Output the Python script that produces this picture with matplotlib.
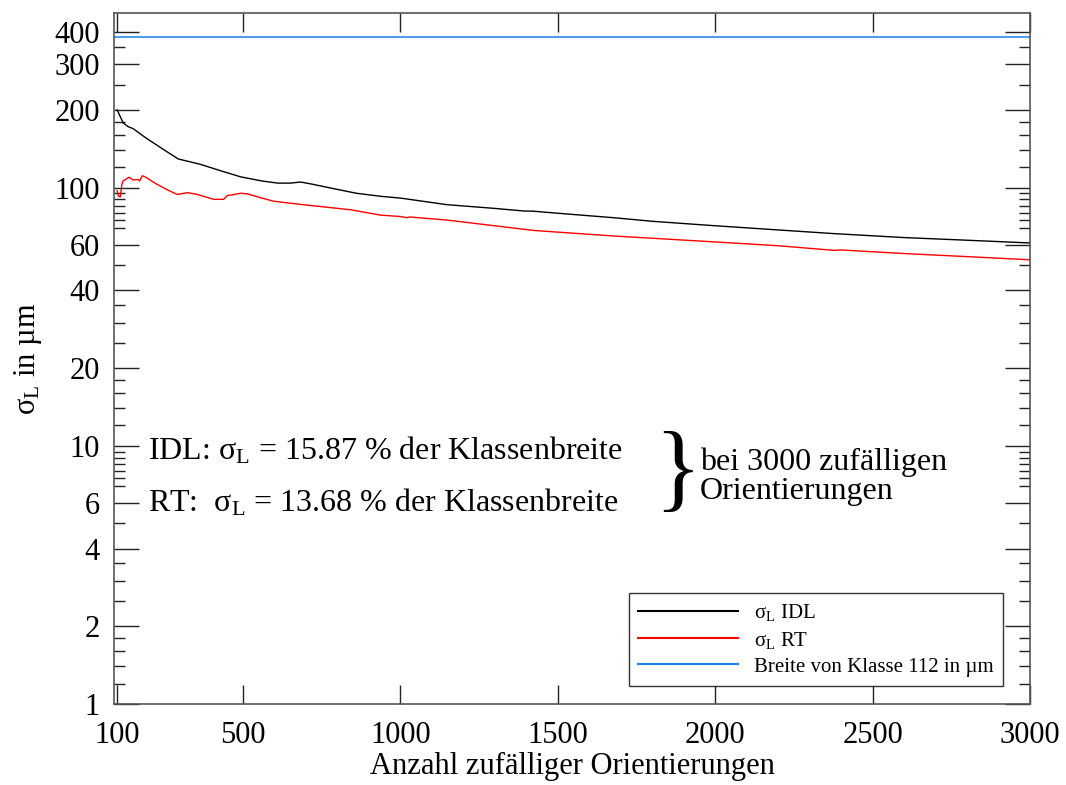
import matplotlib
matplotlib.use("Agg")
import matplotlib.pyplot as plt
from matplotlib.ticker import FixedLocator, NullFormatter, FixedFormatter

plt.rcParams['font.family'] = ['Liberation Serif', 'DejaVu Serif']
plt.rcParams['mathtext.fontset'] = 'custom'
plt.rcParams['mathtext.rm'] = 'Liberation Serif'
plt.rcParams['mathtext.it'] = 'Liberation Serif:italic'

# ---- data ----
idl_x = [100, 110, 119, 135, 151, 190, 237, 294, 364, 430, 492, 560, 610, 650,
         683, 720, 788, 860, 936, 1000, 1148, 1300, 1392, 1420, 1500, 1677,
         1800, 1986, 2200, 2377, 2600, 2800, 3000]
idl_y = [200, 188, 178, 172, 169, 156, 143, 129, 123, 116, 110, 106, 104, 104,
         105, 103, 99, 95, 92.5, 91, 85.8, 83, 81.1, 81, 79.5, 76.4,
         74, 71.3, 68.5, 66.3, 64, 62.5, 61]

rt_x = [100, 104, 110, 115, 119, 138, 150, 167, 171, 180, 189, 220, 259, 291,
        323, 355, 406, 438, 450, 492, 514, 560, 597, 683, 842, 936, 1000,
        1021, 1030, 1148, 1423, 1677, 1986, 2200, 2377, 2400, 2600, 2800, 3000]
rt_y = [97, 92.6, 92, 102.7, 106, 109.6, 107, 107.4, 106, 111, 110, 104, 98, 94,
        95.5, 94, 90, 90, 93, 95, 94.5, 91, 88.5, 86, 82, 78.2, 77.2,
        76.4, 76.9, 74.8, 68.2, 64.9, 61.7, 59.5, 57.1, 57.3, 55.5, 54, 52.5]

klasse_breite = 383.0

x_ticks = [100, 500, 1000, 1500, 2000, 2500, 3000]
y_ticks = [1, 2, 4, 6, 10, 20, 40, 60, 100, 200, 300, 400]

legend_labels = [r'σ$_{\mathrm{L}}$ IDL', r'σ$_{\mathrm{L}}$ RT',
                 'Breite von Klasse 112 in µm']

# ---- figure ----
fig = plt.figure(figsize=(10.66, 7.85), dpi=100)
ax = fig.add_axes([114/1066, 81/785, 916/1066, 691/785])

ax.plot(idl_x, idl_y, color='black', lw=1.0, label=legend_labels[0])
ax.plot(rt_x, rt_y, color='red', lw=1.0, label=legend_labels[1])
ax.axhline(klasse_breite, color='#1a7fe8', lw=1.1, label=legend_labels[2])

ax.set_yscale('log')
ax.set_xlim(90, 3000)
ax.set_ylim(1.0, 474)

ax.xaxis.set_major_locator(FixedLocator(x_ticks))
ax.set_xticklabels([str(v) for v in x_ticks])
ax.xaxis.set_minor_locator(FixedLocator([]))

minor = []
for dec in [1, 10, 100]:
    for s in [1.2, 1.4, 1.6, 1.8, 2.5, 3, 3.5, 5, 7, 7.5, 8, 8.5, 9, 9.5]:
        v = s * dec
        if 1 <= v <= 470 and v not in y_ticks:
            minor.append(v)
ax.yaxis.set_major_locator(FixedLocator(y_ticks))
ax.yaxis.set_major_formatter(FixedFormatter([str(v) for v in y_ticks]))
ax.yaxis.set_minor_locator(FixedLocator(minor))
ax.yaxis.set_minor_formatter(NullFormatter())

for sp in ax.spines.values():
    sp.set_color('#555555')
    sp.set_linewidth(1.2)

ax.tick_params(axis='both', which='both', direction='in', color='#222222',
               labelsize=22, top=True, right=True)
ax.tick_params(axis='y', which='major', length=18, width=1.0, pad=10)
ax.tick_params(axis='y', which='minor', length=8, width=1.0)
ax.tick_params(axis='x', which='major', length=14, width=1.0, pad=12)

ax.set_xlabel('Anzahl zufälliger Orientierungen', fontsize=22, labelpad=2)
ax.set_ylabel(r'σ$_{\mathrm{L}}$ in µm', fontsize=22, labelpad=8)

ax.text(0.037, 0.354, r'IDL: σ$_{\mathrm{L}}$ = 15.87 % der Klassenbreite',
        transform=ax.transAxes, fontsize=23, va='baseline', ha='left')
ax.text(0.037, 0.279, r'RT:  σ$_{\mathrm{L}}$ = 13.68 % der Klassenbreite',
        transform=ax.transAxes, fontsize=23, va='baseline', ha='left')
ax.text(0.6157, 0.331, '}', transform=ax.transAxes, fontsize=70,
        va='center', ha='center')
ax.text(0.6397, 0.338, 'bei 3000 zufälligen', transform=ax.transAxes,
        fontsize=23, va='baseline', ha='left')
ax.text(0.6397, 0.296, 'Orientierungen', transform=ax.transAxes,
        fontsize=23, va='baseline', ha='left')

leg = ax.legend(loc='lower right', bbox_to_anchor=(1003/1066, (785-686)/785),
                bbox_transform=fig.transFigure, fontsize=15, frameon=True,
                fancybox=False, edgecolor='black', handlelength=4.8,
                handletextpad=0.77, labelspacing=0.31, borderpad=0.45,
                borderaxespad=0)
leg.get_frame().set_linewidth(1.0)
for h in leg.get_lines():
    h.set_linewidth(1.5)

fig.savefig('out.png', dpi=100)
